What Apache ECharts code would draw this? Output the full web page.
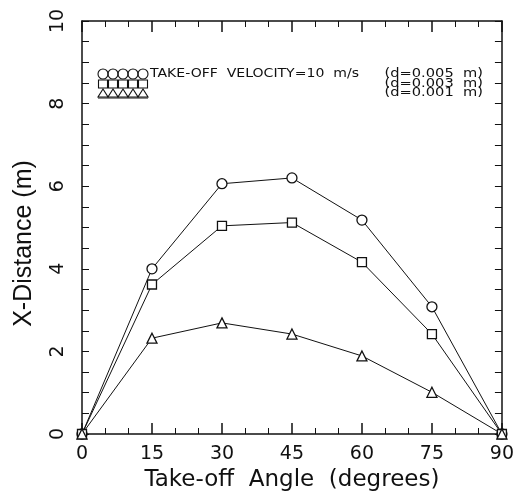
<!DOCTYPE html>
<html>
<head>
<meta charset="utf-8">
<script src="https://cdn.jsdelivr.net/npm/echarts@6/dist/echarts.min.js"></script>
<style>
html,body{margin:0;padding:0;background:#fff;}
#chart{width:517px;height:497px;}
</style>
</head>
<body>
<div id="chart"></div>
<script>
// Data
var angles = [0, 15, 30, 45, 60, 75, 90];
var dist_d005 = [0, 4.00, 6.06, 6.20, 5.18, 3.08, 0];
var dist_d003 = [0, 3.62, 5.04, 5.12, 4.16, 2.42, 0];
var dist_d001 = [0, 2.32, 2.69, 2.42, 1.89, 1.01, 0];
var xTicks = [0, 15, 30, 45, 60, 75, 90];
var yTicks = [0, 2, 4, 6, 8, 10];
var legendTexts = ['TAKE-OFF  VELOCITY=10  m/s', '(d=0.005  m)', '(d=0.003  m)', '(d=0.001  m)'];

function pairs(xs, ys) { return xs.map(function (x, i) { return [x, ys[i]]; }); }

var chart = echarts.init(document.getElementById('chart'));
var black = '#111';
var tickFont = 'DejaVu Sans';

function xAxisDef(pos, showLabel) {
  return {
    type: 'value', position: pos, min: 0, max: 90, interval: 15,
    axisLine: { show: true, onZero: false, lineStyle: { color: black, width: 1.5 } },
    axisTick: { show: true, inside: true, length: 11, lineStyle: { color: black, width: 1.5 } },
    minorTick: { show: true, splitNumber: 3, length: 6, lineStyle: { color: black, width: 1 } },
    splitLine: { show: false },
    axisLabel: { show: showLabel, color: black, fontFamily: tickFont, fontSize: 19, margin: 11 },
    name: showLabel ? 'Take-off  Angle  (degrees)' : '',
    nameLocation: 'middle', nameGap: 35,
    nameTextStyle: { color: black, fontFamily: tickFont, fontSize: 23 }
  };
}
function yAxisDef(pos, showLabel) {
  return {
    type: 'value', position: pos, min: 0, max: 10, interval: 2,
    axisLine: { show: true, onZero: false, lineStyle: { color: black, width: 1.5 } },
    axisTick: { show: true, inside: true, length: 7, lineStyle: { color: black, width: 1 } },
    minorTick: { show: true, splitNumber: 4, length: 7, lineStyle: { color: black, width: 1 } },
    splitLine: { show: false },
    axisLabel: { show: showLabel, color: black, fontFamily: tickFont, fontSize: 19, margin: 14, rotate: 90 },
    name: showLabel ? 'X-Distance (m)' : '',
    nameLocation: 'middle', nameGap: 45, nameRotate: 90,
    nameTextStyle: { color: black, fontFamily: 'Liberation Sans', fontSize: 25, padding: [0, 32, 0, 0] }
  };
}

function lineSeries(name, data, symbol, size) {
  return {
    name: name, type: 'line', data: pairs(angles, data),
    symbol: symbol, symbolSize: size, showSymbol: true,
    lineStyle: { color: black, width: 1 },
    itemStyle: { color: '#fff', borderColor: black, borderWidth: 1.3 },
    z: 3, animation: false
  };
}

// legend graphics (symbols + text)
var graphics = [];
var rowsY = [74, 84, 93];
for (var i = 0; i < 5; i++) {
  var cx = 103 + i * 10;
  graphics.push({ type: 'circle', shape: { cx: cx, cy: rowsY[0], r: 5 }, style: { fill: 'none', stroke: black, lineWidth: 1.1 } });
  graphics.push({ type: 'rect', shape: { x: cx - 4.5, y: rowsY[1] - 4, width: 9, height: 8 }, style: { fill: 'none', stroke: black, lineWidth: 1.1 } });
  graphics.push({ type: 'polygon', shape: { points: [[cx - 5, rowsY[2] + 4], [cx + 5, rowsY[2] + 4], [cx, rowsY[2] - 4]] }, style: { fill: 'none', stroke: black, lineWidth: 1.1 } });
}
graphics.push({ type: 'line', shape: { x1: 98, y1: rowsY[2] + 5, x2: 148, y2: rowsY[2] + 5 }, style: { stroke: black, lineWidth: 1 } });
graphics.push({ type: 'text', x: 150, y: rowsY[0], scaleX: 1.17, style: { text: legendTexts[0], fill: black, font: '12px DejaVu Sans', verticalAlign: 'middle', align: 'left' } });
for (var j = 0; j < 3; j++) {
  graphics.push({ type: 'text', x: 483, y: rowsY[j], scaleX: 1.22, style: { text: legendTexts[j + 1], fill: black, font: '12px DejaVu Sans', align: 'right', verticalAlign: 'middle' } });
}

chart.setOption({
  backgroundColor: '#fff',
  animation: false,
  grid: { left: 82, right: 15, top: 21, bottom: 58, containLabel: false },
  xAxis: [xAxisDef('bottom', true), xAxisDef('top', false)],
  yAxis: [yAxisDef('left', true), yAxisDef('right', false)],
  graphic: graphics,
  series: [
    lineSeries('d=0.005 m', dist_d005, 'circle', 10),
    lineSeries('d=0.003 m', dist_d003, 'rect', 9),
    lineSeries('d=0.001 m', dist_d001, 'triangle', 10)
  ]
});
</script>
</body>
</html>
